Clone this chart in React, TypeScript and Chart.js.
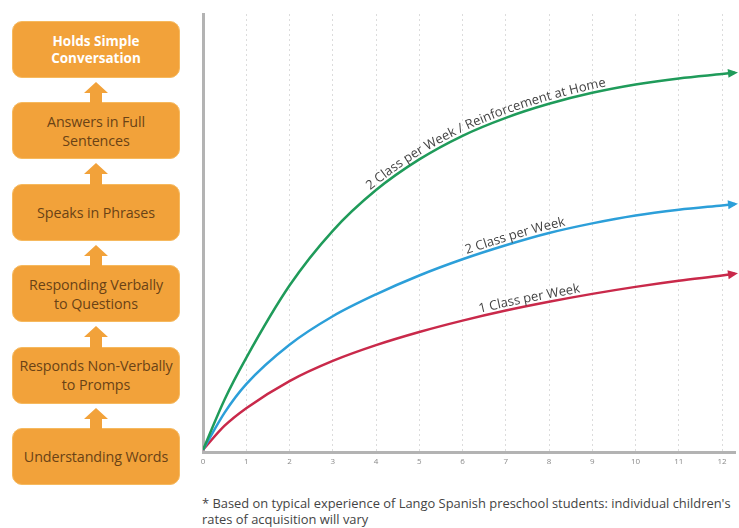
import React, { useEffect, useRef } from 'react';
import { Chart, registerables } from 'chart.js';
Chart.register(...registerables);

// ---- data ----
const weeks = [0, 0.5, 1, 2, 3, 4, 5, 6, 7, 8, 9, 10, 11, 12, 12.3];
const seriesNames = ['2 Class per Week / Reinforcement at Home', '2 Class per Week', '1 Class per Week'];
const reinforcedLevels = [0.5, 12.0, 21.5, 38.0, 50.5, 59.8, 66.8, 72.2, 76.3, 79.5, 82.0, 83.9, 85.3, 86.3, 86.6];
const twoClassLevels = [0.5, 9.0, 15.5, 24.5, 31.0, 36.0, 40.3, 44.0, 47.2, 50.0, 52.2, 54.0, 55.3, 56.3, 56.6];
const oneClassLevels = [0.5, 6.0, 10.0, 16.2, 20.8, 24.4, 27.4, 30.0, 32.3, 34.3, 36.1, 37.7, 39.1, 40.3, 40.7];
const seriesColors = ['#1f9b5a', '#2c9fd9', '#c9294a'];
const labelStartWeeks = [3.9, 6.1, 6.4];
const stages = [
  'Holds Simple\nConversation',
  'Answers in Full\nSentences',
  'Speaks in Phrases',
  'Responding Verbally\nto Questions',
  'Responds Non-Verbally\nto Promps',
  'Understanding Words',
];
const footnoteLines = [
  "* Based on typical experience of Lango Spanish preschool students: individual children's",
  'rates of acquisition will vary',
];

const seriesValues = [reinforcedLevels, twoClassLevels, oneClassLevels];

const curvePlugin = {
  id: 'curveDecor',
  afterDatasetsDraw(chart: any) {
    const ctx = chart.ctx;
    const xs = chart.scales.x;
    chart.data.datasets.forEach((ds: any, di: number) => {
      const pts = chart.getDatasetMeta(di).data as any[];
      const samples: { x: number; y: number }[] = [];
      for (let i = 0; i < pts.length - 1; i++) {
        const a = pts[i], b = pts[i + 1];
        const c1x = a.cp2x ?? a.x, c1y = a.cp2y ?? a.y;
        const c2x = b.cp1x ?? b.x, c2y = b.cp1y ?? b.y;
        for (let t = 0; t < 24; t++) {
          const u = t / 24, v = 1 - u;
          samples.push({
            x: v * v * v * a.x + 3 * v * v * u * c1x + 3 * v * u * u * c2x + u * u * u * b.x,
            y: v * v * v * a.y + 3 * v * v * u * c1y + 3 * v * u * u * c2y + u * u * u * b.y,
          });
        }
      }
      const last = pts[pts.length - 1];
      samples.push({ x: last.x, y: last.y });

      // arrowhead
      const prev = samples[samples.length - 6];
      let dx = last.x - prev.x, dy = last.y - prev.y;
      const len = Math.hypot(dx, dy) || 1;
      dx /= len; dy /= len;
      const tipX = last.x + dx * 3, tipY = last.y + dy * 3;
      const baseX = tipX - dx * 10, baseY = tipY - dy * 10;
      ctx.save();
      ctx.fillStyle = seriesColors[di];
      ctx.beginPath();
      ctx.moveTo(tipX, tipY);
      ctx.lineTo(baseX - dy * 4.5, baseY + dx * 4.5);
      ctx.lineTo(baseX + dy * 4.5, baseY - dx * 4.5);
      ctx.closePath();
      ctx.fill();
      ctx.restore();

      // label along curve
      const cum: number[] = [0];
      for (let i = 1; i < samples.length; i++) {
        cum.push(cum[i - 1] + Math.hypot(samples[i].x - samples[i - 1].x, samples[i].y - samples[i - 1].y));
      }
      const at = (s: number) => {
        let i = 1;
        while (i < cum.length - 1 && cum[i] < s) i++;
        const p0 = samples[i - 1], p1 = samples[i];
        const seg = cum[i] - cum[i - 1] || 1;
        const f = (s - cum[i - 1]) / seg;
        return { x: p0.x + (p1.x - p0.x) * f, y: p0.y + (p1.y - p0.y) * f, ang: Math.atan2(p1.y - p0.y, p1.x - p0.x) };
      };
      const startPx = xs.getPixelForValue(labelStartWeeks[di]);
      let k = 0;
      while (k < samples.length - 1 && samples[k].x < startPx) k++;
      let s = cum[k];
      ctx.save();
      ctx.font = '13px "Open Sans"';
      ctx.fillStyle = '#444';
      ctx.textAlign = 'center';
      ctx.textBaseline = 'alphabetic';
      for (const ch of ds.label as string) {
        const w = ctx.measureText(ch).width;
        const p = at(s + w / 2);
        ctx.save();
        ctx.translate(p.x, p.y);
        ctx.rotate(p.ang);
        ctx.fillText(ch, 0, -3.5);
        ctx.restore();
        s += w;
      }
      ctx.restore();
    });
  },
};

function StageBoxes() {
  const top0 = 21;
  const step = 81.4;
  const h = 57;
  return (
    <>
      {stages.map((txt, i) => {
        const top = top0 + i * step;
        const first = i === 0;
        return (
          <div
            key={'b' + i}
            style={{
              position: 'absolute', left: 12, top, width: 168, height: h, boxSizing: 'border-box',
              background: '#f2a23a', border: '1px solid #f6b95e', borderRadius: 10,
              display: 'flex', alignItems: 'center', justifyContent: 'center', textAlign: 'center',
              whiteSpace: 'pre-line', lineHeight: first ? '17px' : '19px',
              color: first ? '#ffffff' : '#6a4216', fontWeight: first ? 700 : 400,
              fontSize: first ? 13.5 : 14.3, letterSpacing: first ? 0 : -0.1,
              fontFamily: '"Open Sans", sans-serif',
            }}
          >
            {txt}
          </div>
        );
      })}
      {stages.slice(1).map((_, i) => {
        const gapTop = top0 + i * step + h;
        return (
          <svg key={'a' + i} width={30} height={30} style={{ position: 'absolute', left: 81, top: gapTop + 3 }}>
            <polygon points="15,1 27,12 21,12 21,30 9,30 9,12 3,12" fill="#f2a23a" />
          </svg>
        );
      })}
    </>
  );
}

export default function App() {
  const canvasRef = useRef<HTMLCanvasElement | null>(null);
  useEffect(() => {
    const canvas = canvasRef.current;
    if (!canvas) return;
    const chart = new Chart(canvas, {
      type: 'line',
      data: {
        datasets: seriesValues.map((vals, i) => ({
          label: seriesNames[i],
          data: weeks.map((w, j) => ({ x: w, y: vals[j] })),
          borderColor: seriesColors[i],
          borderWidth: 2.5,
          pointRadius: 0,
          fill: false,
          cubicInterpolationMode: 'monotone' as const,
        })),
      },
      options: {
        responsive: false,
        animation: false,
        layout: { padding: { left: 13, right: 4, top: 14, bottom: 2 } },
        plugins: { legend: { display: false }, tooltip: { enabled: false } },
        scales: {
          x: {
            type: 'linear',
            min: 0,
            max: 12.3,
            ticks: {
              stepSize: 1,
              includeBounds: false,
              autoSkip: false,
              maxRotation: 0,
              color: '#8a8a8a',
              font: { size: 8, family: '"Open Sans"' },
              padding: 5,
            },
            grid: { color: '#dcdcdc', lineWidth: 1, drawTicks: false },
            border: { color: '#b3b3b3', width: 3, dash: [2, 3] },
            afterFit: (s: any) => { s.height = 22; },
          },
          y: {
            min: 0,
            max: 100,
            ticks: { display: false },
            grid: { display: false, drawTicks: false },
            border: { color: '#b3b3b3', width: 3 },
            afterFit: (s: any) => { s.width = 0; },
          },
        },
      },
      plugins: [curvePlugin],
    } as any);
    return () => chart.destroy();
  }, []);

  return (
    <div style={{ position: 'fixed', left: 0, top: 0, width: 739, height: 528, background: '#fff', overflow: 'hidden' }}>
      <StageBoxes />
      <div style={{ position: 'absolute', left: 190, top: 0, width: 549, height: 476 }}>
        <canvas ref={canvasRef} width={549} height={476} />
      </div>
      <div
        style={{
          position: 'absolute', left: 202, top: 495, width: 537, fontFamily: '"Open Sans", sans-serif',
          fontSize: 12.9, lineHeight: '16px', color: '#444', whiteSpace: 'nowrap',
        }}
      >
        {footnoteLines.map((l, i) => (
          <div key={i}>{l}</div>
        ))}
      </div>
    </div>
  );
}
